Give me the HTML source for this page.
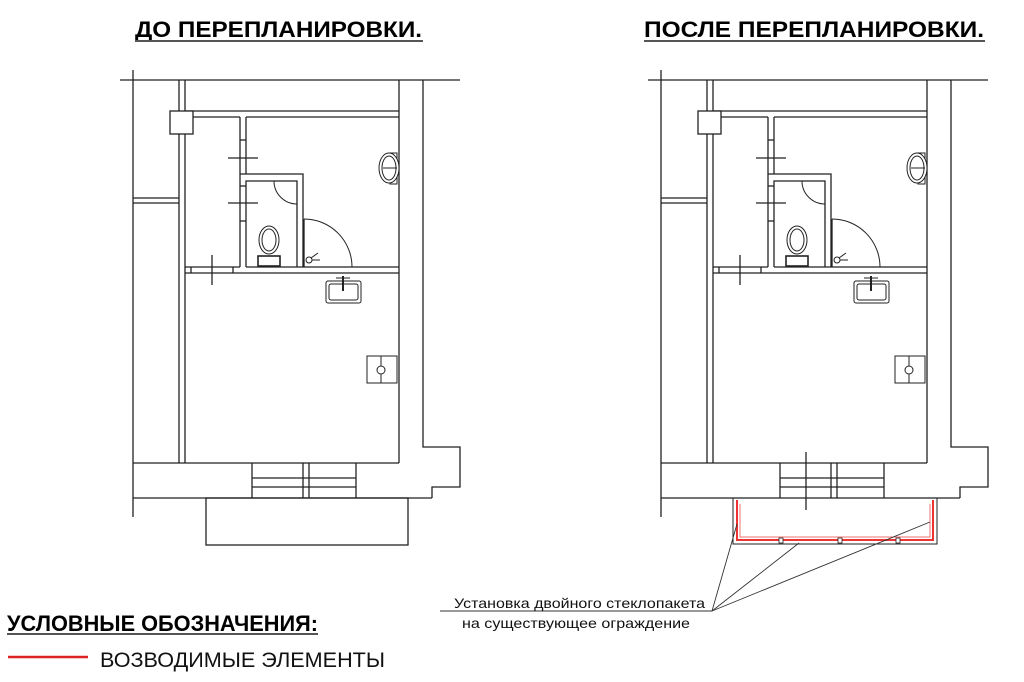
<!DOCTYPE html>
<html><head><meta charset="utf-8"><style>
html,body{margin:0;padding:0;background:#fff;width:1024px;height:682px;overflow:hidden}
svg{display:block}
text{font-family:"Liberation Sans",sans-serif}
</style></head><body>
<svg width="1024" height="682" viewBox="0 0 1024 682" xmlns="http://www.w3.org/2000/svg">
<defs>
<g id="plan" fill="none" stroke="#222" stroke-width="1.3">
  <line x1="120" y1="80" x2="460" y2="80"/>
  <line x1="133" y1="70" x2="133" y2="517"/>
  <line x1="179" y1="80" x2="179" y2="463"/>
  <line x1="185" y1="80" x2="185" y2="463"/>
  <line x1="133" y1="198" x2="179" y2="198"/>
  <line x1="133" y1="203" x2="179" y2="203"/>
  <line x1="399" y1="80" x2="399" y2="463"/>
  <polyline points="423,80 423,447 460,447 460,487 432,487 432,498"/>
  <line x1="133" y1="463" x2="399" y2="463"/>
  <line x1="133" y1="498" x2="432" y2="498"/>
  <line x1="252" y1="463" x2="252" y2="498"/>
  <line x1="356" y1="463" x2="356" y2="498"/>
  <line x1="303" y1="463" x2="303" y2="498"/>
  <line x1="309" y1="463" x2="309" y2="498"/>
  <line x1="252" y1="478" x2="356" y2="478"/>
  <line x1="252" y1="487" x2="356" y2="487"/>
  <line x1="185" y1="111" x2="399" y2="111"/>
  <line x1="193" y1="117" x2="240" y2="117"/>
  <line x1="246" y1="117" x2="399" y2="117"/>
  <rect x="170" y="111" width="23" height="23" fill="#fff"/>
  <line x1="240" y1="117" x2="240" y2="267"/>
  <line x1="246" y1="117" x2="246" y2="174"/>
  <line x1="240" y1="140" x2="246" y2="140"/>
  <line x1="240" y1="186" x2="246" y2="186"/>
  <line x1="240" y1="221" x2="246" y2="221"/>
  <line x1="228" y1="158" x2="258" y2="158"/>
  <line x1="228" y1="203" x2="258" y2="203"/>
  <polyline points="240,174 303,174 303,267"/>
  <polyline points="246,267 246,181 297,181 297,267"/>
  <path d="M274,181 A23,23 0 0 0 297,204" stroke-width="1"/>
  <line x1="185" y1="267" x2="240" y2="267"/>
  <line x1="246" y1="267" x2="399" y2="267"/>
  <line x1="185" y1="273" x2="399" y2="273"/>
  <line x1="191" y1="267" x2="191" y2="273"/>
  <line x1="233" y1="267" x2="233" y2="273"/>
  <line x1="212" y1="255" x2="212" y2="285"/>
  <path d="M304,219 A48,48 0 0 1 352,267" stroke-width="1"/>
  <line x1="304" y1="219" x2="304" y2="267"/>
  <circle cx="309" cy="260" r="3" stroke-width="1"/>
  <line x1="311" y1="258" x2="318" y2="253" stroke-width="1"/>
  <line x1="312" y1="260" x2="320" y2="260" stroke-width="1"/>
  <ellipse cx="269" cy="240" rx="10" ry="14" stroke-width="1"/>
  <ellipse cx="269" cy="240" rx="7" ry="11" stroke-width="1"/>
  <rect x="258" y="256" width="22" height="10" stroke-width="1.6"/>
  <rect x="390" y="153" width="7" height="31" stroke-width="1"/>
  <ellipse cx="389" cy="168" rx="10" ry="15" stroke-width="1" fill="#fff"/>
  <ellipse cx="389" cy="168" rx="7" ry="12" stroke-width="1"/>
  <line x1="383" y1="168" x2="397" y2="168" stroke-width="1"/>
  <rect x="326" y="281" width="35" height="22" rx="2" stroke-width="1"/>
  <rect x="329" y="284" width="29" height="16" rx="2" stroke-width="1"/>
  <line x1="343" y1="276" x2="343" y2="291" stroke-width="2"/>
  <line x1="336" y1="278" x2="350" y2="278" stroke-width="1"/>
  <rect x="367" y="356" width="30" height="27" stroke-width="1"/>
  <line x1="381" y1="356" x2="381" y2="383" stroke-width="1"/>
  <circle cx="381" cy="370" r="4" stroke-width="1" fill="#fff"/>
</g>
</defs>
<use href="#plan"/>
<g transform="translate(528,0)"><use href="#plan"/></g>
<rect x="206" y="498" width="202" height="47" fill="none" stroke="#222" stroke-width="1.3"/>
<line x1="806" y1="452" x2="806" y2="510" stroke="#222" stroke-width="1.3"/>
<g fill="none">
  <polyline points="733,498 733,544 937,544 937,498" stroke="#222" stroke-width="1"/>
  <polyline points="737,500 737,540 933,540 933,500" stroke="#e33" stroke-width="2"/>
  <polyline points="740,504 740,537 930,537 930,504" stroke="#f07070" stroke-width="1"/>
  <rect x="779" y="538" width="4" height="5" fill="#fff" stroke="#222" stroke-width="0.8"/>
  <rect x="838" y="538" width="4" height="5" fill="#fff" stroke="#222" stroke-width="0.8"/>
  <rect x="896" y="538" width="4" height="5" fill="#fff" stroke="#222" stroke-width="0.8"/>
</g>
<g stroke="#333" stroke-width="0.9">
  <line x1="440" y1="611" x2="712" y2="611"/>
  <line x1="712" y1="611" x2="737" y2="524"/>
  <line x1="712" y1="611" x2="799" y2="543"/>
  <line x1="712" y1="611" x2="930" y2="522"/>
</g>
<text x="454" y="608" font-size="14" textLength="251" lengthAdjust="spacingAndGlyphs" fill="#111">Установка двойного стеклопакета</text>
<text x="462" y="628" font-size="14" textLength="228" lengthAdjust="spacingAndGlyphs" fill="#111">на существующее ограждение</text>
<text x="135" y="37" font-size="22" font-weight="bold" textLength="287" lengthAdjust="spacingAndGlyphs" fill="#000">ДО ПЕРЕПЛАНИРОВКИ.</text>
<line x1="135" y1="41" x2="423" y2="41" stroke="#555" stroke-width="2"/>
<text x="644" y="37" font-size="22" font-weight="bold" textLength="340" lengthAdjust="spacingAndGlyphs" fill="#000">ПОСЛЕ ПЕРЕПЛАНИРОВКИ.</text>
<line x1="644" y1="41" x2="985" y2="41" stroke="#555" stroke-width="2"/>
<text x="7" y="631" font-size="22" font-weight="bold" textLength="311" lengthAdjust="spacingAndGlyphs" fill="#000">УСЛОВНЫЕ ОБОЗНАЧЕНИЯ:</text>
<line x1="7" y1="634" x2="318" y2="634" stroke="#555" stroke-width="2"/>
<line x1="8" y1="657" x2="88" y2="657" stroke="#d22" stroke-width="2.5"/>
<text x="100" y="667" font-size="21" textLength="285" lengthAdjust="spacingAndGlyphs" fill="#111">ВОЗВОДИМЫЕ ЭЛЕМЕНТЫ</text>
</svg>
</body></html>
